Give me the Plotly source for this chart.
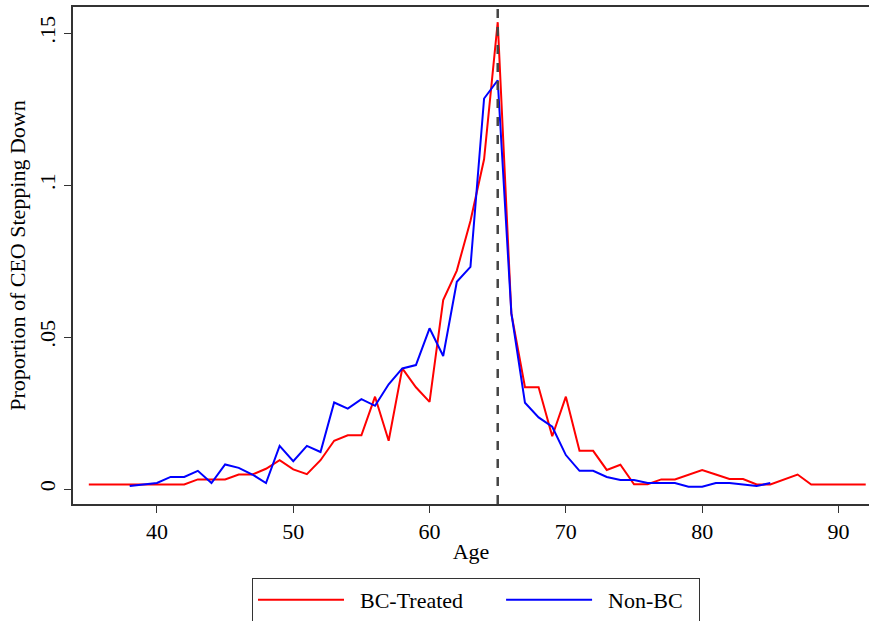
import plotly.graph_objects as go

# BC-Treated
bc_age = list(range(35, 93))
bc_val = [0.0015, 0.0015, 0.0015, 0.0015, 0.0015, 0.0015, 0.0015, 0.0015,  # 35-42
          0.0032, 0.0032, 0.0032, 0.0048, 0.0048, 0.0067, 0.0095,           # 43-49
          0.0065, 0.0049, 0.0095, 0.0159, 0.0177, 0.0177, 0.0304, 0.0159,   # 50-57
          0.0397, 0.0335, 0.0287, 0.0622, 0.0719, 0.0882, 0.1085, 0.1536,   # 58-65
          0.0578, 0.0335, 0.0335, 0.0174, 0.0304, 0.0126, 0.0126, 0.0063,   # 66-73
          0.0080, 0.0016, 0.0016, 0.0032, 0.0032, 0.0048, 0.0063, 0.0048,   # 74-81
          0.0033, 0.0033, 0.0015, 0.0015, 0.0032, 0.0048, 0.0015, 0.0015,   # 82-89
          0.0015, 0.0015, 0.0015]                                            # 90-92

# Non-BC
nbc_age = list(range(38, 86))
nbc_val = [0.0010, 0.0015, 0.0020, 0.0040, 0.0040, 0.0060, 0.0020, 0.0081,  # 38-45
           0.0070, 0.0048, 0.0020, 0.0142, 0.0092, 0.0142, 0.0122, 0.0285,  # 46-53
           0.0265, 0.0296, 0.0274, 0.0345, 0.0397, 0.0408, 0.0529, 0.0438,  # 54-61
           0.0682, 0.0731, 0.1285, 0.1345, 0.0579, 0.0284, 0.0236, 0.0205,  # 62-69
           0.0112, 0.0060, 0.0060, 0.0040, 0.0030, 0.0030, 0.0020, 0.0020,  # 70-77
           0.0020, 0.0008, 0.0008, 0.0020, 0.0020, 0.0015, 0.0010, 0.0020]  # 78-85

x_ticks = [40, 50, 60, 70, 80, 90]
y_ticks = [0, 0.05, 0.1, 0.15]
y_tick_labels = ["0", ".05", ".1", ".15"]
cutoff_age = 65

FONT = "Liberation Serif"
NB = "\u00a0"

fig = go.Figure()
fig.add_trace(go.Scatter(x=bc_age, y=bc_val, mode="lines", name=NB * 2 + "BC-Treated" + NB * 6,
                         line=dict(color="#ff0000", width=2)))
fig.add_trace(go.Scatter(x=nbc_age, y=nbc_val, mode="lines", name=NB * 2 + "Non-BC" + NB * 2,
                         line=dict(color="#0000ff", width=2)))

fig.add_shape(type="line", x0=cutoff_age, x1=cutoff_age, xref="x", y0=0, y1=1, yref="paper",
              line=dict(color="#444444", width=2.5, dash="dash"))

fig.update_layout(
    width=869, height=621,
    margin=dict(l=73, r=0, t=7, b=117, autoexpand=False),
    paper_bgcolor="white", plot_bgcolor="white",
    font=dict(family=FONT, size=22, color="black"),
    showlegend=True,
    legend=dict(orientation="h", x=(252 - 73) / 796, y=-74 / 497, xanchor="left", yanchor="top",
                bordercolor="#333333", borderwidth=1, font=dict(family=FONT, size=22),
                itemwidth=86, tracegroupgap=0),
    xaxis=dict(range=[33.84, 92.24], tickvals=x_ticks, showgrid=False, zeroline=False,
               showline=True, linecolor="#333333", linewidth=1.5, mirror=True,
               ticks="outside", ticklen=7, tickcolor="#333333",
               tickfont=dict(family=FONT, size=22), automargin=False,
               title=dict(text="Age", font=dict(family=FONT, size=22), standoff=0)),
    yaxis=dict(range=[-0.0049, 0.1586], tickvals=y_ticks, ticktext=y_tick_labels,
               showgrid=False, zeroline=False, showline=True, linecolor="#333333",
               linewidth=1.5, ticks="outside", ticklen=7, tickcolor="#333333",
               tickangle=-90, tickfont=dict(family=FONT, size=22), automargin=False,
               title=dict(text="Proportion of CEO Stepping Down", font=dict(family=FONT, size=22),
                          standoff=4)),
)

fig.write_html("out.html", config={"displayModeBar": False},
               post_script="document.body.style.margin='0';document.body.style.overflow='hidden';")
